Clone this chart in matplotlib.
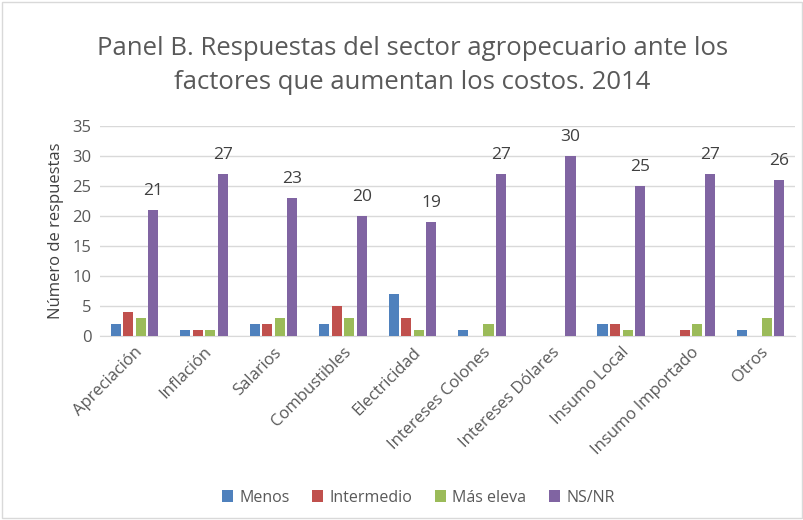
import matplotlib.pyplot as plt
import numpy as np

plt.rcParams['font.family'] = ['Open Sans', 'DejaVu Sans']

categorias = ['Apreciación', 'Inflación', 'Salarios', 'Combustibles', 'Electricidad',
              'Intereses Colones', 'Intereses Dólares', 'Insumo Local',
              'Insumo Importado', 'Otros']
menos = [2, 1, 2, 2, 7, 1, 0, 2, 0, 1]
intermedio = [4, 1, 2, 5, 3, 0, 0, 2, 1, 0]
mas_eleva = [3, 1, 3, 3, 1, 2, 0, 1, 2, 3]
ns_nr = [21, 27, 23, 20, 19, 27, 30, 25, 27, 26]

series = [('Menos', menos, '#4f81bd'),
          ('Intermedio', intermedio, '#c0504d'),
          ('Más eleva', mas_eleva, '#9bbb59'),
          ('NS/NR', ns_nr, '#8064a2')]

gris = '#595959'

fig = plt.figure(figsize=(8.04, 5.2), dpi=100)
ax = fig.add_axes([0.124, 0.354, 0.865, 0.404])

x = np.arange(len(categorias))
ancho = 0.145
paso = 0.18
for i, (nombre, vals, color) in enumerate(series):
    barras = ax.bar(x + (i - 1.5) * paso, vals, ancho, color=color, label=nombre, zorder=3)
    if nombre == 'NS/NR':
        ax.bar_label(barras, padding=8, fontsize=12.5, color='#404040')

ax.set_xlim(-0.5, len(categorias) - 0.5)
ax.set_ylim(0, 35)
ax.set_yticks(range(0, 36, 5))
ax.yaxis.grid(True, color='#d9d9d9', linewidth=1, zorder=0)
for s in ['top', 'right', 'left']:
    ax.spines[s].set_visible(False)
ax.spines['bottom'].set_color('#d9d9d9')
ax.tick_params(axis='both', length=0, labelsize=12, colors=gris, pad=6)
ax.set_xticks(x)
ax.set_xticklabels(categorias, rotation=45, ha='right', rotation_mode='anchor')
ax.set_ylabel('Número de respuestas', fontsize=12, color='#404040', labelpad=6)

fig.suptitle('Panel B. Respuestas del sector agropecuario ante los\nfactores que aumentan los costos. 2014',
             fontsize=18.5, color=gris, x=0.513, y=0.93, linespacing=1.45)

fig.legend(loc='lower center', ncol=4, frameon=False, fontsize=11.5,
           bbox_to_anchor=(0.52, 0.0), handlelength=0.7, handleheight=0.7,
           columnspacing=1.4, handletextpad=0.4, labelcolor=gris)

fig.patches.append(plt.Rectangle((0.003, 0.003), 0.994, 0.994, transform=fig.transFigure,
                                 fill=False, edgecolor='#d9d9d9', linewidth=1))

fig.savefig('out.png', dpi=100)
